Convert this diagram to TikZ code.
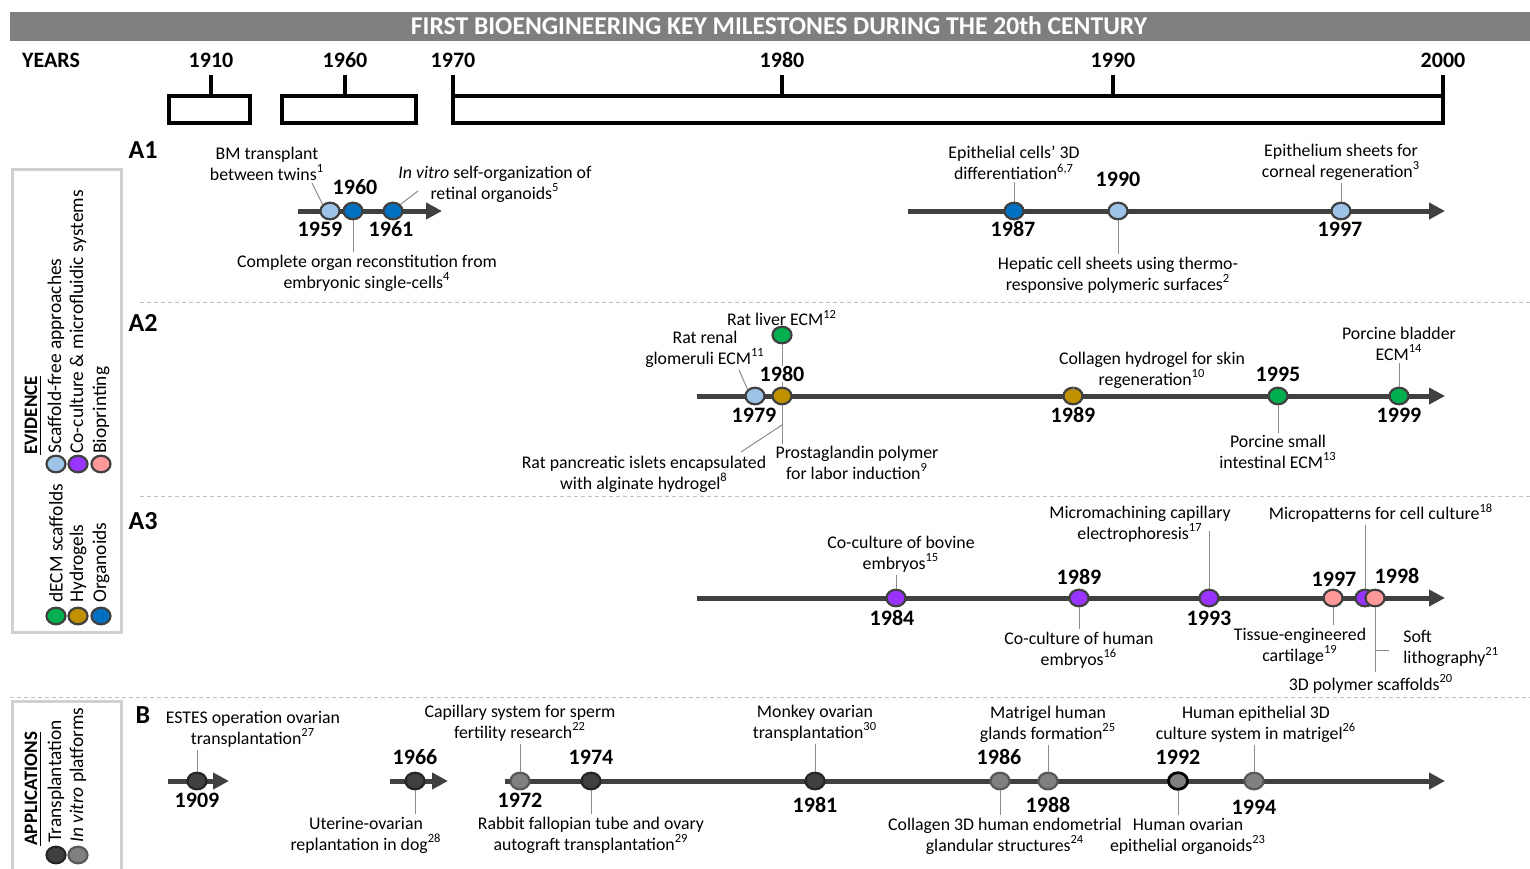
\documentclass[tikz,border=0pt]{standalone}
\usepackage{fontspec}
\setmainfont{Carlito}
\usetikzlibrary{arrows.meta,shapes.geometric,positioning}

\definecolor{axisgray}{HTML}{404040}
\definecolor{barg}{HTML}{7F7F7F}
\definecolor{sfree}{HTML}{9DC3E6}
\definecolor{orga}{HTML}{0070C0}
\definecolor{decm}{HTML}{00B050}
\definecolor{hydro}{HTML}{BF9000}
\definecolor{cocul}{HTML}{9933FF}
\definecolor{biop}{HTML}{FF9999}
\definecolor{trans}{HTML}{404040}
\definecolor{vitro}{HTML}{808080}
\definecolor{leadg}{HTML}{8C8C8C}
\definecolor{boxg}{HTML}{D0D0D0}
\definecolor{sepg}{HTML}{C0C0C0}

\tikzset{
  dot/.style={ellipse, draw=axisgray, line width=1.1pt, minimum width=9.5pt, minimum height=8.3pt, inner sep=0pt},
  tdot/.style={dot, fill=trans, draw=black!85},
  vdot/.style={dot, fill=vitro, draw=black!65},
  yr/.style={font=\fontsize{11}{12}\selectfont\bfseries, inner sep=1pt},
  note/.style={align=center, font=\fontsize{8.9}{10.5}\selectfont, inner sep=1pt},
  lead/.style={draw=leadg, line width=0.5pt},
  tline/.style={draw=axisgray, line width=2.5pt, -{Triangle[length=8pt,width=8pt]}},
  legtxt/.style={rotate=90, anchor=west, inner sep=0pt, font=\fontsize{9.7}{10}\selectfont},
  sec/.style={font=\fontsize{13}{14}\selectfont\bfseries, inner sep=0pt},
  brk/.style={line width=2pt},
  sepline/.style={draw=sepg, line width=0.5pt, dash pattern=on 2pt off 1.5pt},
  legbox/.style={draw=boxg, line width=1.5pt}
}

\begin{document}
\begin{tikzpicture}[x=0.5pt,y=-0.5pt]
\useasboundingbox (0,0) rectangle (1530,868);

% title bar and year scale
\fill[barg] (10,12) rectangle (1530,41);
\node[font=\fontsize{12.8}{13}\selectfont\bfseries, text=white] (title) at (779,26) {FIRST BIOENGINEERING KEY MILESTONES DURING THE 20th CENTURY};
\node[yr] (years) at (51,60) {YEARS};
\node[yr] (h1910) at (211,60) {1910};
\node[yr] (h1960) at (345,60) {1960};
\node[yr] (h1970) at (453,60) {1970};
\node[yr] (h1980) at (782,60) {1980};
\node[yr] (h1990) at (1113,60) {1990};
\node[yr] (h2000) at (1443,60) {2000};
\draw[brk] (169,96) rectangle (250,123);
\draw[brk] (282,96) rectangle (416,123);
\draw[brk] (211,75) -- (211,96);
\draw[brk] (345,75) -- (345,96);
\draw[brk] (453,75) -- (453,125);
\draw[brk] (1443,75) -- (1443,125);
\draw[brk] (453,96) -- (1443,96);
\draw[brk] (453,123) -- (1443,123);
\draw[brk] (782,75) -- (782,96);
\draw[brk] (1113,75) -- (1113,96);

% separators and legend boxes
\draw[sepline] (140,302) -- (1530,302);
\draw[sepline] (140,496) -- (1530,496);
\draw[sepline] (10,697) -- (1530,697);
\draw[legbox] (12,169) rectangle (121,632);
\draw[legbox] (12,875) -- (12,701) -- (121,701) -- (121,875);

% legend
\node[legtxt, font=\fontsize{9.5}{10}\selectfont\bfseries] (tevid) at (33,455) {\underline{EVIDENCE}};
\node[dot, fill=decm] (kdecm) at (56,616) {};
\node[dot, fill=hydro] (khydro) at (78,616) {};
\node[dot, fill=orga] (korga) at (101,616) {};
\node[dot, fill=sfree] (ksfree) at (56,464) {};
\node[dot, fill=cocul] (kcocul) at (78,464) {};
\node[dot, fill=biop] (kbiop) at (101,464) {};
\node[legtxt] (tdecm) at (56,603) {dECM scaffolds};
\node[legtxt] (thydro) at (78,603) {Hydrogels};
\node[legtxt] (torga) at (101,603) {Organoids};
\node[legtxt] (tsfree) at (56,454) {Scaffold-free approaches};
\node[legtxt] (tcocul) at (78,454) {Co-culture \& microfluidic systems};
\node[legtxt] (tbiop) at (101,454) {Bioprinting};

\node[legtxt, font=\fontsize{9.5}{10}\selectfont\bfseries] (tappl) at (33,846) {\underline{APPLICATIONS}};
\node[tdot] (ktrans) at (56,855) {};
\node[vdot] (kvitro) at (78,855) {};
\node[legtxt] (ttrans) at (56,843) {Transplantation};
\node[legtxt] (tvitro) at (78,843) {\textit{In vitro} platforms};

% section letters
\node[sec] (sA1) at (143,150) {A1};
\node[sec] (sA2) at (143,323) {A2};
\node[sec] (sA3) at (143,521) {A3};
\node[sec] (sB) at (143,715) {B};

% A1
\draw[tline] (298,211) -- (442,211);
\draw[tline] (908,211) -- (1445,211);
\node[dot, fill=sfree] (e1959) at (330,211) {};
\node[dot, fill=orga] (e1960) at (353,211) {};
\node[dot, fill=orga] (e1961) at (393,211) {};
\node[dot, fill=orga] (e1987) at (1014,211) {};
\node[dot, fill=sfree] (e1990) at (1118,211) {};
\node[dot, fill=sfree] (e1997) at (1341,211) {};
\node[yr] (l1959) at (320,229) {1959};
\node[yr] (l1960) at (355,187) {1960};
\node[yr] (l1961) at (391,229) {1961};
\node[yr] (l1987) at (1013,229) {1987};
\node[yr] (l1990) at (1118,179) {1990};
\node[yr] (l1997) at (1340,229) {1997};
\node[note] (n1959) at (267,164) {BM transplant\\between twins\textsuperscript{1}};
\node[note] (n1961) at (495,184) {\textit{In vitro} self-organization of\\retinal organoids\textsuperscript{5}};
\node[note] (n1960) at (367,273) {Complete organ reconstitution from\\embryonic single-cells\textsuperscript{4}};
\node[note] (n1987) at (1014,163) {Epithelial cells’ 3D\\differentiation\textsuperscript{6,7}};
\node[note] (n1990) at (1118,275) {Hepatic cell sheets using thermo-\\responsive polymeric surfaces\textsuperscript{2}};
\node[note] (n1997) at (1341,162) {Epithelium sheets for\\corneal regeneration\textsuperscript{3}};
\coordinate (bmend) at (312,183);
\coordinate (retend) at (418,191);
\draw[lead] (e1959.north west) -- (bmend);
\draw[lead] (e1961.north east) -- (retend);
\draw[lead] (e1960.south) -- (e1960.south |- n1960.north);
\draw[lead] (e1987.north) -- (e1987.north |- n1987.south);
\draw[lead] (e1990.south) -- (e1990.south |- n1990.north);
\draw[lead] (e1997.north) -- (e1997.north |- n1997.south);

% A2
\draw[tline] (697,396) -- (1445,396);
\node[dot, fill=sfree] (e1979) at (755,396) {};
\node[dot, fill=hydro] (e1980) at (782,396) {};
\node[dot, fill=decm] (eliver) at (782,335) {};
\node[dot, fill=hydro] (e1989b) at (1073,396) {};
\node[dot, fill=decm] (e1995) at (1278,396) {};
\node[dot, fill=decm] (e1999) at (1399,396) {};
\draw[lead] (eliver) -- (e1980);
\node[yr] (l1979) at (754,415) {1979};
\node[yr, fill=white, inner sep=0pt] (l1980) at (782,374) {1980};
\node[yr] (l1989b) at (1073,415) {1989};
\node[yr] (l1995) at (1278,374) {1995};
\node[yr] (l1999) at (1399,415) {1999};
\node[note] (nliver) at (782,318) {Rat liver ECM\textsuperscript{12}};
\node[note] (nrenal) at (705,349) {Rat renal\\glomeruli ECM\textsuperscript{11}};
\node[note] (nislet) at (644,474) {Rat pancreatic islets encapsulated\\with alginate hydrogel\textsuperscript{8}};
\node[note] (nprost) at (857,463) {Prostaglandin polymer\\for labor induction\textsuperscript{9}};
\node[note] (ncollagen) at (1152,370) {Collagen hydrogel for skin\\regeneration\textsuperscript{10}};
\node[note] (nsmall) at (1278,452) {Porcine small\\intestinal ECM\textsuperscript{13}};
\node[note] (nbladder) at (1399,344) {Porcine bladder\\ECM\textsuperscript{14}};
\coordinate (renalend) at (739,370);
\coordinate (fork1980) at (782,425);
\coordinate (isletend) at (741,452);
\draw[lead] (e1979.north west) -- (renalend);
\draw[lead] (e1980.south) -- (e1980.south |- nprost.north);
\draw[lead] (fork1980) -- (isletend);
\draw[lead] (e1989b.north) -- (e1989b.north |- ncollagen.south);
\draw[lead] (e1995.south) -- (e1995.south |- nsmall.north);
\draw[lead] (e1999.north) -- (e1999.north |- nbladder.south);

% A3
\draw[tline] (697,598) -- (1445,598);
\node[dot, fill=cocul] (e1984) at (896,598) {};
\node[dot, fill=cocul] (e1989c) at (1079,598) {};
\node[dot, fill=cocul] (e1993) at (1209,598) {};
\node[dot, fill=biop] (e1997c) at (1333,598) {};
\node[dot, fill=cocul] (e1998a) at (1365,598) {};
\node[dot, fill=biop] (e1998b) at (1375,598) {};
\node[yr] (l1984) at (892,618) {1984};
\node[yr] (l1989c) at (1079,577) {1989};
\node[yr] (l1993) at (1209,618) {1993};
\node[yr] (l1997c) at (1334,579) {1997};
\node[yr] (l1998) at (1397,576) {1998};
\node[note] (nbovine) at (901,554) {Co-culture of bovine\\embryos\textsuperscript{15}};
\node[note] (nhuman) at (1079,650) {Co-culture of human\\embryos\textsuperscript{16}};
\node[note] (nmicro) at (1140,524) {Micromachining capillary\\electrophoresis\textsuperscript{17}};
\node[note] (ntissue) at (1300,646) {Tissue-engineered\\cartilage\textsuperscript{19}};
\node[note] (nmpat) at (1381,513) {Micropatterns for cell culture\textsuperscript{18}};
\node[note] (n3d) at (1371,684) {3D polymer scaffolds\textsuperscript{20}};
\node[note, align=left, anchor=west] (nsoft) at (1401,648) {Soft\\lithography\textsuperscript{21}};
\coordinate (microend) at (1209,531);
\coordinate (softfork) at (1375,650);
\draw[lead] (e1984.north) -- (e1984.north |- nbovine.south);
\draw[lead] (e1989c.south) -- (e1989c.south |- nhuman.north);
\draw[lead] (e1993.north) -- (microend);
\draw[lead] (e1997c.south) -- (e1997c.south |- ntissue.north);
\draw[lead] (e1998a.north) -- (e1998a.north |- nmpat.south);
\draw[lead] (e1998b.south) -- (e1998b.south |- n3d.north);
\draw[lead] (softfork) -- ([xshift=-6pt]nsoft.west |- softfork);

% B
\draw[tline] (168,781) -- (229,781);
\draw[tline] (390,781) -- (448,781);
\draw[tline] (505,781) -- (1445,781);
\node[tdot] (e1909) at (197,781) {};
\node[tdot] (e1966) at (415,781) {};
\node[vdot] (e1972) at (520,781) {};
\node[tdot] (e1974) at (591,781) {};
\node[tdot] (e1981) at (815,781) {};
\node[vdot] (e1986) at (1000,781) {};
\node[vdot] (e1988) at (1048,781) {};
\node[vdot, draw=black, line width=1.4pt] (e1992) at (1178,781) {};
\node[vdot] (e1994) at (1254,781) {};
\node[yr] (l1909) at (197,800) {1909};
\node[yr] (l1966) at (415,757) {1966};
\node[yr] (l1972) at (520,800) {1972};
\node[yr] (l1974) at (591,757) {1974};
\node[yr] (l1981) at (815,805) {1981};
\node[yr] (l1986) at (999,757) {1986};
\node[yr] (l1988) at (1048,805) {1988};
\node[yr] (l1992) at (1178,757) {1992};
\node[yr] (l1994) at (1254,807) {1994};
\node[note] (nestes) at (253,729) {ESTES operation ovarian\\transplantation\textsuperscript{27}};
\node[note] (ndog) at (366,835) {Uterine-ovarian\\replantation in dog\textsuperscript{28}};
\node[note] (nsperm) at (520,723) {Capillary system for sperm\\fertility research\textsuperscript{22}};
\node[note] (nrabbit) at (591,835) {Rabbit fallopian tube and ovary\\autograft transplantation\textsuperscript{29}};
\node[note] (nmonkey) at (815,723) {Monkey ovarian\\transplantation\textsuperscript{30}};
\node[note] (ncoll) at (1005,836) {Collagen 3D human endometrial\\glandular structures\textsuperscript{24}};
\node[note] (nmatri) at (1048,724) {Matrigel human\\glands formation\textsuperscript{25}};
\node[note] (novar) at (1188,836) {Human ovarian\\epithelial organoids\textsuperscript{23}};
\node[note] (nhep) at (1256,724) {Human epithelial 3D\\culture system in matrigel\textsuperscript{26}};
\draw[lead] (e1909.north) -- (e1909.north |- nestes.south);
\draw[lead] (e1966.south) -- (e1966.south |- ndog.north);
\draw[lead] (e1972.north) -- (e1972.north |- nsperm.south);
\draw[lead] (e1974.south) -- (e1974.south |- nrabbit.north);
\draw[lead] (e1981.north) -- (e1981.north |- nmonkey.south);
\draw[lead] (e1986.south) -- (e1986.south |- ncoll.north);
\draw[lead] (e1988.north) -- (e1988.north |- nmatri.south);
\draw[lead] (e1992.south) -- (e1992.south |- novar.north);
\draw[lead] (e1994.north) -- (e1994.north |- nhep.south);
\end{tikzpicture}
\end{document}
